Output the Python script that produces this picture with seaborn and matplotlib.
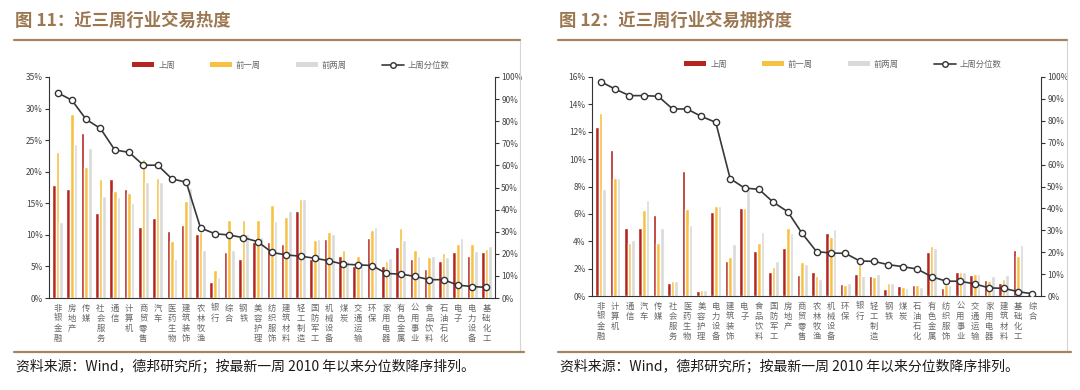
import numpy as np
import pandas as pd
import matplotlib
matplotlib.use('Agg')
import matplotlib.pyplot as plt
import seaborn as sns
from matplotlib.lines import Line2D
from matplotlib.patches import Patch
from matplotlib.ticker import PercentFormatter, MultipleLocator, FixedLocator

sns.set_theme(style='white')
plt.rcParams['font.family'] = ['Noto Sans CJK SC', 'DejaVu Sans']

series_names = ['上周', '前一周', '前两周']
line_name = '上周分位数'

# ---------------- left panel: 交易热度 ----------------
title_L = '图 11：近三周行业交易热度'
cats_L = ['非银金融', '房地产', '传媒', '社会服务', '通信', '计算机', '商贸零售', '汽车',
          '医药生物', '建筑装饰', '农林牧渔', '银行', '综合', '钢铁', '美容护理', '纺织服饰',
          '建筑材料', '轻工制造', '国防军工', '机械设备', '煤炭', '交通运输', '环保', '家用电器',
          '有色金属', '公用事业', '食品饮料', '石油石化', '电子', '电力设备', '基础化工']
last_L = [17.9, 17.3, 26.1, 13.4, 18.8, 17.3, 11.3, 12.7, 10.6, 11.5, 10.2, 2.5, 7.3, 6.1, 8.8, 8.9,
          8.6, 13.8, 6.2, 9.3, 6.7, 5.1, 9.5, 5.1, 8.0, 6.2, 4.6, 5.8, 7.3, 6.6, 7.3]
prev1_L = [23.1, 29.2, 20.8, 18.9, 17.0, 16.7, 22.0, 19.0, 9.0, 15.3, 10.4, 4.4, 12.4, 12.3, 12.4, 14.8,
           12.9, 15.7, 9.2, 10.4, 7.6, 6.6, 10.8, 5.8, 11.1, 7.6, 6.5, 7.2, 8.6, 8.5, 7.8]
prev2_L = [12.1, 24.4, 23.7, 16.1, 16.0, 15.0, 18.3, 18.3, 6.2, 17.5, 7.6, 3.4, 7.6, 10.2, 9.6, 12.2,
           13.8, 15.7, 9.3, 10.2, 5.9, 5.7, 11.3, 6.4, 9.2, 6.7, 6.7, 6.5, 9.5, 7.5, 8.2]
pct_L = [92.9, 89.5, 80.8, 76.7, 67.0, 65.9, 60.1, 60.1, 53.9, 52.4, 31.7, 29.1, 28.5, 27.3, 25.5, 20.6,
         19.5, 18.9, 18.0, 16.8, 15.3, 15.0, 14.7, 11.1, 10.8, 9.8, 8.3, 8.3, 5.8, 5.2, 4.8]

# ---------------- right panel: 交易拥挤度 ----------------
title_R = '图 12：近三周行业交易拥挤度'
cats_R = ['非银金融', '计算机', '通信', '汽车', '传媒', '社会服务', '医药生物', '美容护理',
          '电力设备', '建筑装饰', '电子', '食品饮料', '国防军工', '房地产', '商贸零售', '农林牧渔',
          '机械设备', '环保', '银行', '轻工制造', '钢铁', '煤炭', '石油石化', '有色金属',
          '纺织服饰', '公用事业', '交通运输', '家用电器', '建筑材料', '基础化工', '综合']
last_R = [12.35, 10.7, 5.0, 5.0, 5.9, 0.97, 9.1, 0.37, 6.14, 2.56, 6.45, 3.3, 1.78, 3.48, 1.5, 1.78,
          4.58, 0.88, 1.63, 1.46, 0.51, 0.71, 0.83, 3.19, 0.61, 1.73, 1.53, 1.14, 0.97, 3.34, 0.12]
prev1_R = [13.4, 8.65, 3.85, 6.3, 3.9, 1.1, 6.35, 0.44, 6.58, 2.87, 6.43, 3.87, 2.14, 4.97, 2.46, 1.46,
           4.31, 0.78, 2.36, 1.39, 0.97, 0.63, 0.83, 3.63, 0.83, 1.73, 1.58, 1.07, 1.22, 2.95, 0.05]
prev2_R = [7.8, 8.65, 4.07, 7.0, 5.0, 1.1, 5.2, 0.41, 6.58, 3.8, 7.9, 4.68, 2.58, 4.63, 2.36, 1.27,
           4.87, 0.97, 1.46, 1.6, 0.93, 0.58, 0.68, 3.5, 0.83, 1.73, 1.58, 1.44, 1.51, 3.7, 0.05]
pct_R = [97.9, 94.5, 91.5, 91.5, 91.2, 85.4, 85.4, 82.0, 79.3, 53.6, 49.3, 48.7, 42.8, 38.5, 28.6, 20.3,
         19.6, 19.5, 16.0, 15.8, 14.3, 13.4, 12.3, 8.8, 6.8, 6.7, 5.5, 3.7, 3.5, 2.0, 1.0]

source_text = '资料来源：Wind，德邦研究所；按最新一周 2010 年以来分位数降序排列。'

colors = ['#B52520', '#F7C244', '#DADADA']
line_color = '#383838'
brown = '#A5845F'
W, H = 1080, 390

fig = plt.figure(figsize=(10.8, 3.9), dpi=100)


def fx(px):
    return px / W


def fy(py):
    return 1 - py / H


def panel(rect, cats, a, b, c, pct, ymax, ystep):
    ax = fig.add_axes(rect)
    n = len(cats)
    df = pd.DataFrame({
        'cat': cats * 3,
        'val': list(a) + list(b) + list(c),
        'series': [s for s in series_names for _ in cats],
    })
    sns.barplot(data=df, x='cat', y='val', hue='series', hue_order=series_names, order=cats,
                palette=colors, width=0.76, saturation=1, errorbar=None, ax=ax, legend=False)
    ax.set_ylim(0, ymax)
    ax.yaxis.set_major_locator(MultipleLocator(ystep))
    ax.yaxis.set_major_formatter(PercentFormatter(decimals=0))
    ax.set_xlabel('')
    ax.set_ylabel('')
    ax.set_xticks(range(n))
    ax.set_xticklabels(['\n'.join(cname) for cname in cats], fontsize=6, color='#666666',
                       linespacing=1.15, va='top')
    ax.xaxis.set_minor_locator(FixedLocator(np.arange(-0.5, n, 1.0)))
    ax.tick_params(axis='x', which='major', length=0, pad=4)
    ax.tick_params(axis='x', which='minor', length=3, width=0.8, color='#333333', direction='out')
    ax.tick_params(axis='y', length=3, width=0.8, color='#333333', direction='out',
                   labelsize=6, labelcolor='#444444', pad=1.5)

    ax2 = ax.twinx()
    sns.lineplot(x=np.arange(n), y=pct, ax=ax2, color=line_color, lw=1.2, marker='o',
                 markersize=4.5, markerfacecolor='white', markeredgecolor='#333333',
                 markeredgewidth=1.0, zorder=5)
    ax2.set_ylim(0, 100)
    ax2.yaxis.set_major_locator(MultipleLocator(10))
    ax2.yaxis.set_major_formatter(PercentFormatter(decimals=0))
    ax2.set_ylabel('')
    ax2.tick_params(axis='y', length=3, width=0.8, color='#333333', direction='out',
                    labelsize=6, labelcolor='#444444', pad=1.5)
    ax.set_xlim(-0.6, n - 0.4)
    ax2.set_xlim(-0.6, n - 0.4)

    for s in ['top', 'right']:
        ax.spines[s].set_visible(False)
    for s in ['top', 'left', 'bottom']:
        ax2.spines[s].set_visible(False)
    for s in ['left', 'bottom']:
        ax.spines[s].set_color('#333333')
        ax.spines[s].set_linewidth(0.8)
    ax2.spines['right'].set_color('#333333')
    ax2.spines['right'].set_linewidth(0.8)
    return ax, ax2


axL, axL2 = panel([fx(49), fy(298), fx(495 - 49), (298 - 77) / H],
                  cats_L, last_L, prev1_L, prev2_L, pct_L, 35, 5)
axR, axR2 = panel([fx(592), fy(296), fx(1041 - 592), (296 - 77) / H],
                  cats_R, last_R, prev1_R, prev2_R, pct_R, 16, 2)

handles = [Patch(facecolor=col, edgecolor='none') for col in colors] + \
          [Line2D([], [], color=line_color, lw=1.2, marker='o', markersize=4,
                  markerfacecolor='white', markeredgecolor='#333333')]
labels = series_names + [line_name]
for cx, cy in [(291, 65), (843, 64)]:
    fig.legend(handles, labels, loc='center', bbox_to_anchor=(fx(cx), fy(cy)), ncol=4,
               frameon=False, fontsize=6, handlelength=2.6, handleheight=0.55,
               columnspacing=4.2, handletextpad=0.5, labelcolor='#666666')

# titles, rules, borders, sources
for x0, x1, title in [(14, 520, title_L), (558, 1067, title_R)]:
    fig.text(fx(x0 + 1), fy(21), title, fontsize=12.5, fontweight='bold', color='#9C7852',
             va='center', ha='left')
    fig.add_artist(Line2D([fx(x0), fx(x1)], [fy(40), fy(40)], color=brown, lw=1.6,
                          transform=fig.transFigure))
    fig.add_artist(Line2D([fx(x1), fx(x1)], [fy(41), fy(351)], color='#D5D5D5', lw=0.8,
                          transform=fig.transFigure))
    fig.add_artist(Line2D([fx(x0), fx(x1 + 4)], [fy(352), fy(352)], color=brown, lw=1.6,
                          transform=fig.transFigure))
    fig.text(fx(x0 + 2), fy(367), source_text, fontsize=10, color='#1A1A1A', va='center', ha='left')

fig.savefig('out.png', dpi=100)
